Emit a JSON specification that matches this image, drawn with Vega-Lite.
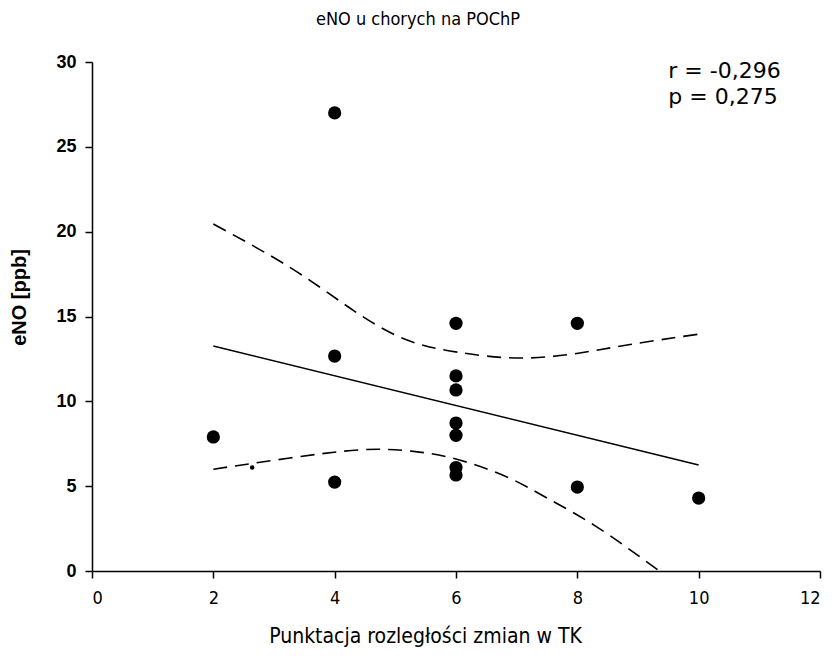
{
  "$schema": "https://vega.github.io/schema/vega-lite/v6.json",
  "width": 728,
  "height": 509,
  "autosize": "none",
  "padding": {"left": 92, "top": 62, "right": 14, "bottom": 87},
  "background": "white",
  "config": {"view": {"stroke": null}},
  "title": {
    "text": "eNO u chorych na POChP",
    "font": "DejaVu Sans Condensed, DejaVu Sans",
    "fontSize": 18,
    "fontWeight": "normal",
    "color": "black",
    "anchor": "middle",
    "dx": -38,
    "offset": 24
  },
  "datasets": {
    "points": [
      {"x": 2, "y": 7.9},
      {"x": 4, "y": 27.0},
      {"x": 4, "y": 12.67},
      {"x": 4, "y": 5.24},
      {"x": 6, "y": 14.6},
      {"x": 6, "y": 11.5},
      {"x": 6, "y": 10.67},
      {"x": 6, "y": 8.72},
      {"x": 6, "y": 8.0},
      {"x": 6, "y": 6.1},
      {"x": 6, "y": 5.66},
      {"x": 8, "y": 14.6},
      {"x": 8, "y": 4.95},
      {"x": 10, "y": 4.3}
    ],
    "fit": [
      {"x": 2, "y": 13.26},
      {"x": 10, "y": 6.25}
    ],
    "upper": [
      {"x": 2, "y": 20.45},
      {"x": 3.26, "y": 17.9},
      {"x": 4.25, "y": 15.5},
      {"x": 5.13, "y": 13.7},
      {"x": 6.02, "y": 12.9},
      {"x": 7.05, "y": 12.55},
      {"x": 8.04, "y": 12.85},
      {"x": 8.87, "y": 13.35},
      {"x": 10, "y": 13.96}
    ],
    "lower": [
      {"x": 2, "y": 6.0},
      {"x": 3.26, "y": 6.66},
      {"x": 4.47, "y": 7.15},
      {"x": 5.3, "y": 7.05},
      {"x": 6.0, "y": 6.6},
      {"x": 6.84, "y": 5.54},
      {"x": 7.5, "y": 4.3},
      {"x": 8.32, "y": 2.6},
      {"x": 9.35, "y": 0.0}
    ],
    "speck": [{"x": 2.64, "y": 6.1}],
    "notes": [
      {"x": 9.5, "y": 29.46, "label": "r = -0,296"},
      {"x": 9.5, "y": 27.93, "label": "p = 0,275"}
    ]
  },
  "layer": [
    {
      "data": {"name": "fit"},
      "mark": {"type": "line", "color": "black", "strokeWidth": 1.6},
      "encoding": {
        "x": {
          "field": "x", "type": "quantitative",
          "scale": {"domain": [0, 12], "nice": false},
          "axis": {
            "values": [0, 2, 4, 6, 8, 10, 12],
            "format": "d",
            "grid": false,
            "domainColor": "black",
            "domainWidth": 1.5,
            "tickColor": "black",
            "tickWidth": 1.5,
            "tickSize": 7,
            "labelFont": "DejaVu Sans Condensed, DejaVu Sans",
            "labelFontSize": 18,
            "labelColor": "black",
            "labelPadding": 11,
            "title": "Punktacja rozległości zmian w TK",
            "titleFont": "DejaVu Sans Condensed, DejaVu Sans",
            "titleFontSize": 21,
            "titleFontWeight": "normal",
            "titleColor": "black",
            "titleX": 333,
            "titlePadding": 18
          }
        },
        "y": {
          "field": "y", "type": "quantitative",
          "scale": {"domain": [0, 30], "nice": false},
          "axis": {
            "values": [0, 5, 10, 15, 20, 25, 30],
            "format": "d",
            "grid": false,
            "domainColor": "black",
            "domainWidth": 1.5,
            "tickColor": "black",
            "tickWidth": 1.5,
            "tickSize": 7,
            "labelFont": "Liberation Sans",
            "labelFontSize": 18,
            "labelFontWeight": "bold",
            "labelColor": "black",
            "labelPadding": 9,
            "title": "eNO [ppb]",
            "titleFont": "Liberation Sans",
            "titleFontSize": 20,
            "titleFontWeight": "bold",
            "titleColor": "black",
            "titleX": -63,
            "titleY": 235
          }
        }
      }
    },
    {
      "data": {"name": "upper"},
      "mark": {"type": "line", "color": "black", "strokeWidth": 1.6, "strokeDash": [14, 8], "interpolate": "natural"},
      "encoding": {
        "x": {"field": "x", "type": "quantitative"},
        "y": {"field": "y", "type": "quantitative"}
      }
    },
    {
      "data": {"name": "lower"},
      "mark": {"type": "line", "color": "black", "strokeWidth": 1.6, "strokeDash": [14, 8], "interpolate": "natural"},
      "encoding": {
        "x": {"field": "x", "type": "quantitative"},
        "y": {"field": "y", "type": "quantitative"}
      }
    },
    {
      "data": {"name": "points"},
      "mark": {"type": "circle", "color": "black", "opacity": 1, "size": 175},
      "encoding": {
        "x": {"field": "x", "type": "quantitative"},
        "y": {"field": "y", "type": "quantitative"}
      }
    },
    {
      "data": {"name": "speck"},
      "mark": {"type": "circle", "color": "black", "opacity": 1, "size": 20},
      "encoding": {
        "x": {"field": "x", "type": "quantitative"},
        "y": {"field": "y", "type": "quantitative"}
      }
    },
    {
      "data": {"name": "notes"},
      "mark": {"type": "text", "align": "left", "baseline": "middle", "font": "DejaVu Sans", "fontSize": 22, "color": "black"},
      "encoding": {
        "x": {"field": "x", "type": "quantitative"},
        "y": {"field": "y", "type": "quantitative"},
        "text": {"field": "label"}
      }
    }
  ]
}
